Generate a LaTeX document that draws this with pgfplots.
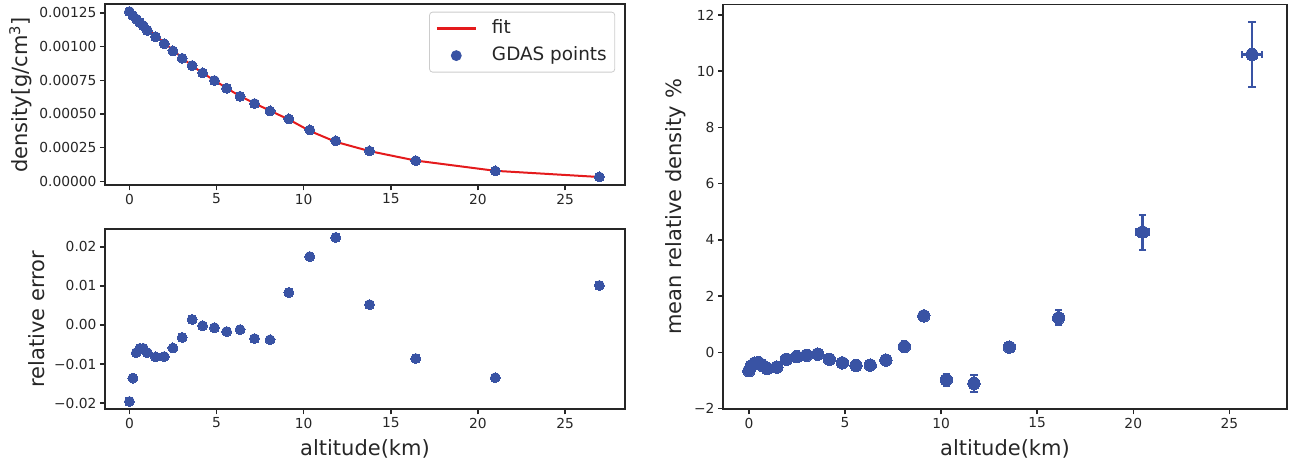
\documentclass[border=0pt]{standalone}
\usepackage{fontspec}
\setmainfont{DejaVu Sans}
\usepackage{pgfplots}
\usepackage{pgfplotstable}
\pgfplotsset{compat=1.18}
\definecolor{ptblue}{RGB}{57,83,164}
\definecolor{fitred}{RGB}{228,26,28}
\definecolor{ink}{RGB}{38,38,38}
\definecolor{legedge}{RGB}{204,204,204}

\pgfplotstableread{
x y
0.00 0.001285
0.20 0.001247
0.40 0.001214
0.60 0.001187
0.80 0.001162
1.03 0.001128
1.50 0.001082
2.00 0.001029
2.50 0.000974
3.03 0.000916
3.60 0.000858
4.20 0.000804
4.88 0.000749
5.58 0.000692
6.35 0.000632
7.18 0.000579
8.07 0.000524
9.15 0.000459
10.35 0.000374
11.84 0.000293
13.78 0.000224
16.43 0.000154
21.00 0.0000777
26.97 0.0000319
}\fitdata

\pgfplotstableread{
x y
0.00 0.001260
0.20 0.001230
0.40 0.001205
0.60 0.001180
0.80 0.001155
1.03 0.001120
1.50 0.001073
2.00 0.001021
2.50 0.000968
3.03 0.000913
3.60 0.000859
4.20 0.000804
4.88 0.000748
5.58 0.000691
6.35 0.000631
7.18 0.000577
8.07 0.000522
9.15 0.000463
10.35 0.000381
11.84 0.000300
13.78 0.000225
16.43 0.000153
21.00 0.0000767
26.97 0.0000322
}\gdasdata

\pgfplotstableread{
x y
0.00 -0.0196
0.20 -0.0136
0.40 -0.0071
0.60 -0.0060
0.80 -0.0060
1.03 -0.0071
1.50 -0.0082
2.00 -0.0081
2.50 -0.0059
3.03 -0.0032
3.60 0.0014
4.20 -0.0002
4.88 -0.0007
5.58 -0.0017
6.35 -0.0012
7.18 -0.0035
8.07 -0.0038
9.15 0.0083
10.35 0.0175
11.84 0.0224
13.78 0.0052
16.43 -0.0086
21.00 -0.0135
26.97 0.0101
}\relerr

\pgfplotstableread{
x y ex ey
0.00 -0.65 0.05 0.05
0.12 -0.48 0.05 0.05
0.30 -0.38 0.05 0.05
0.50 -0.36 0.05 0.05
0.72 -0.47 0.05 0.05
0.95 -0.57 0.05 0.05
1.45 -0.52 0.05 0.05
1.95 -0.24 0.05 0.05
2.48 -0.15 0.05 0.05
3.00 -0.10 0.05 0.05
3.58 -0.06 0.05 0.05
4.18 -0.24 0.05 0.05
4.86 -0.37 0.05 0.05
5.57 -0.46 0.05 0.05
6.31 -0.45 0.05 0.05
7.13 -0.27 0.05 0.05
8.09 0.21 0.05 0.05
9.10 1.30 0.05 0.06
10.27 -0.97 0.05 0.22
11.71 -1.10 0.05 0.30
13.55 0.19 0.05 0.08
16.12 1.23 0.08 0.27
20.48 4.28 0.36 0.62
26.18 10.59 0.50 1.15
}\meanrel

\pgfplotsset{
  myax/.style={
    scale only axis,
    axis line style={ink, line width=1.8pt},
    tick pos=left, tick align=outside, major tick length=5pt,
    tick style={ink, line width=1.5pt},
    tick label style={font=\fontsize{13.8}{16}\selectfont, text=ink},
    label style={font=\fontsize{21}{25}\selectfont, text=ink},
    /pgf/number format/assume math mode=true,
    scaled ticks=false,
    xtick={0,5,10,15,20,25},
    xticklabels={0,5,10,15,20,25},
  }
}

\begin{document}
\begin{tikzpicture}
\path[use as bounding box] (0,0) rectangle (1294pt,467pt);

% top-left: density
\begin{axis}[myax,
  at={(105pt,281.7pt)}, anchor=south west, width=520pt, height=181pt,
  xmin=-1.4, xmax=28.44, ymin=-0.0000297, ymax=0.001314,
  ytick={0,0.00025,0.0005,0.00075,0.001,0.00125},
  yticklabels={0.00000,0.00025,0.00050,0.00075,0.00100,0.00125},
  ylabel={density[g/cm\textsuperscript{3}]},
  ylabel style={at={(axis description cs:-0.1623,0.5)}, anchor=center},
  legend style={at={(0.981,0.959)}, anchor=north east, draw=legedge, line width=0.8pt,
    rounded corners=3pt, fill=white, font=\fontsize{18.4}{22}\selectfont, text=ink,
    inner xsep=6pt, inner ysep=3pt, row sep=0pt, column sep=13pt,
    nodes={inner ysep=4.5pt, text height=13.5pt, text depth=4.5pt}},
  legend cell align=left,
]
\addplot[fitred, line width=2pt, no marks,
  legend image code/.code={\draw[fitred, line width=2.4pt] (0pt,0pt) -- (39pt,0pt);}]
  table[x=x,y=y] {\fitdata};
\addlegendentry{fit}
\addplot[only marks, mark=*, mark size=5pt, color=ptblue, mark options={draw=ptblue, fill=ptblue, line width=0pt},
  legend image code/.code={\path (0pt,0pt) (39pt,0pt); \fill[ptblue] (19.5pt,0pt) circle (5pt);}]
  table[x=x,y=y] {\gdasdata};
\addlegendentry{GDAS points}
\end{axis}

% bottom-left: relative error
\begin{axis}[myax,
  at={(105pt,57.7pt)}, anchor=south west, width=520pt, height=180pt,
  xmin=-1.4, xmax=28.44, ymin=-0.0216, ymax=0.02448,
  ytick={-0.02,-0.01,0,0.01,0.02},
  yticklabels={−0.02,−0.01,0.00,0.01,0.02},
  ylabel={relative error},
  ylabel style={at={(axis description cs:-0.1313,0.5)}, anchor=center},
  xlabel={altitude(km)},
  xlabel style={at={(axis description cs:0.5,-0.2206)}, anchor=center},
]
\addplot[only marks, mark=*, mark size=5pt, color=ptblue, mark options={draw=ptblue, fill=ptblue, line width=0pt}]
  table[x=x,y=y] {\relerr};
\end{axis}

% right: mean relative density
\begin{axis}[myax,
  at={(723pt,57.7pt)}, anchor=south west, width=564pt, height=404.8pt,
  xmin=-1.35, xmax=28.0, ymin=-2.02, ymax=12.37,
  ytick={-2,0,2,4,6,8,10,12},
  yticklabels={−2,0,2,4,6,8,10,12},
  ylabel={mean relative density \%},
  ylabel style={at={(axis description cs:-0.0833,0.5)}, anchor=center},
  xlabel={altitude(km)},
  xlabel style={at={(axis description cs:0.5,-0.0981)}, anchor=center},
]
\addplot[only marks, mark=*, mark size=6.2pt, color=ptblue,
  mark options={draw=ptblue, fill=ptblue, line width=0pt},
  error bars/.cd, x dir=both, x explicit, y dir=both, y explicit,
  error bar style={line width=2.5pt, ptblue},
  error mark options={rotate=90, line width=2pt, mark size=3.6pt, ptblue}]
  table[x=x, y=y, x error=ex, y error=ey] {\meanrel};
\end{axis}
\end{tikzpicture}
\end{document}
